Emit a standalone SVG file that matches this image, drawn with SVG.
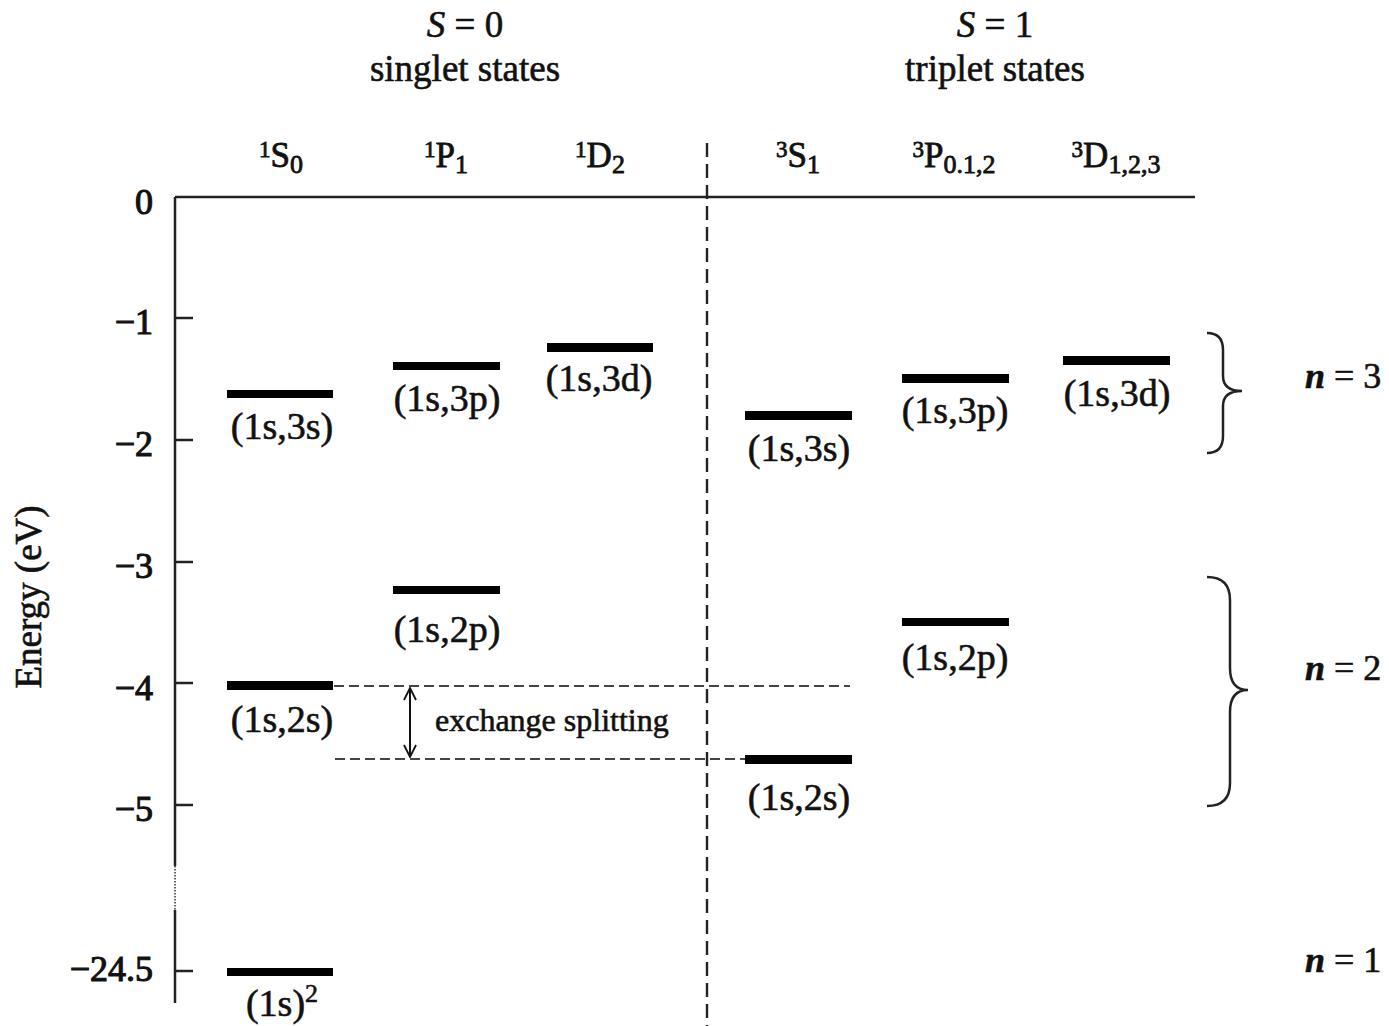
<svg xmlns="http://www.w3.org/2000/svg" width="1389" height="1026" viewBox="0 0 1389 1026">
<style>
text{font-family:"Liberation Serif","Times New Roman",serif;fill:#111;stroke:#111;stroke-width:0.6}
.lbl{font-size:38px;text-anchor:middle}
.tick{font-size:36px;text-anchor:end;stroke-width:1.1}
.hdr{font-size:37px;text-anchor:middle}
.col{font-size:35px;text-anchor:middle;stroke-width:0.8}
.nl{font-size:36px}
.bar{fill:#000}
.axis{stroke:#222;stroke-width:2.5;fill:none}
.dash{stroke:#444;stroke-width:2.2;stroke-dasharray:10 5;fill:none}
.brace{stroke:#222;stroke-width:2.5;fill:none}
</style>
<defs>
<marker id="vh" viewBox="0 0 14 14" refX="13" refY="7" markerWidth="14" markerHeight="14" markerUnits="userSpaceOnUse" orient="auto-start-reverse">
<path d="M1,1 L13,7 L1,13" fill="none" stroke="#111" stroke-width="1.8"/>
</marker>
</defs>
<rect width="1389" height="1026" fill="#fff"/>

<g id="headers">
<text class="hdr" x="465" y="37"><tspan font-style="italic">S</tspan> = 0</text>
<text class="hdr" x="465" y="81">singlet states</text>
<text class="hdr" x="995" y="37"><tspan font-style="italic">S</tspan> = 1</text>
<text class="hdr" x="995" y="81">triplet states</text>
</g>

<g id="columns">
<text class="col" x="281" y="167"><tspan font-size="23" dy="-10">1</tspan><tspan dy="10">S</tspan><tspan font-size="26" dy="6">0</tspan></text>
<text class="col" x="446" y="167"><tspan font-size="23" dy="-10">1</tspan><tspan dy="10">P</tspan><tspan font-size="26" dy="6">1</tspan></text>
<text class="col" x="600" y="167"><tspan font-size="23" dy="-10">1</tspan><tspan dy="10">D</tspan><tspan font-size="26" dy="6">2</tspan></text>
<text class="col" x="798" y="167"><tspan font-size="23" dy="-10">3</tspan><tspan dy="10">S</tspan><tspan font-size="26" dy="6">1</tspan></text>
<text class="col" x="954" y="167"><tspan font-size="23" dy="-10">3</tspan><tspan dy="10">P</tspan><tspan font-size="26" dy="6">0.1,2</tspan></text>
<text class="col" x="1116" y="167"><tspan font-size="23" dy="-10">3</tspan><tspan dy="10">D</tspan><tspan font-size="26" dy="6">1,2,3</tspan></text>
</g>

<g id="axes">
<path class="axis" d="M175,197 H1195"/>
<path class="axis" d="M175,197 V866"/>
<path d="M175,866 V910" stroke="#333" stroke-width="1.5" stroke-dasharray="1.5 1.5" fill="none"/>
<path class="axis" d="M175,910 V1003"/>
<path class="axis" d="M175,318 H193 M175,440 H193 M175,562 H193 M175,683 H193 M175,805 H193 M175,971 H193"/>
<text class="tick" x="153" y="214">0</text>
<text class="tick" x="153" y="334">−1</text>
<text class="tick" x="153" y="456">−2</text>
<text class="tick" x="153" y="578">−3</text>
<text class="tick" x="153" y="700">−4</text>
<text class="tick" x="153" y="821">−5</text>
<text class="tick" x="153" y="981">−24.5</text>
<text x="41" y="597" font-size="37" text-anchor="middle" transform="rotate(-90 41 597)">Energy (eV)</text>
<path d="M707,143 V1026" stroke="#222" stroke-width="2.4" stroke-dasharray="14 7" fill="none"/>
</g>

<g id="S0-3s"><rect class="bar" x="227" y="390" width="106" height="8"/><text class="lbl" x="282" y="439">(1s,3s)</text></g>
<g id="S0-2s"><rect class="bar" x="227" y="681" width="106" height="9"/><text class="lbl" x="282" y="732">(1s,2s)</text></g>
<g id="S0-1s2"><rect class="bar" x="227" y="968" width="106" height="8"/><text class="lbl" x="282" y="1016">(1s)<tspan font-size="26" dy="-14">2</tspan></text></g>
<g id="P1-3p"><rect class="bar" x="393" y="362" width="107" height="8"/><text class="lbl" x="447" y="411">(1s,3p)</text></g>
<g id="P1-2p"><rect class="bar" x="393" y="586" width="107" height="8"/><text class="lbl" x="447" y="642">(1s,2p)</text></g>
<g id="D2-3d"><rect class="bar" x="547" y="343" width="106" height="9"/><text class="lbl" x="599" y="391">(1s,3d)</text></g>
<g id="S1-3s"><rect class="bar" x="745" y="411" width="107" height="9"/><text class="lbl" x="799" y="461">(1s,3s)</text></g>
<g id="S1-2s"><rect class="bar" x="745" y="755" width="107" height="9"/><text class="lbl" x="799" y="810">(1s,2s)</text></g>
<g id="P012-3p"><rect class="bar" x="902" y="374" width="107" height="9"/><text class="lbl" x="955" y="423">(1s,3p)</text></g>
<g id="P012-2p"><rect class="bar" x="902" y="618" width="107" height="8"/><text class="lbl" x="955" y="670">(1s,2p)</text></g>
<g id="D123-3d"><rect class="bar" x="1063" y="356" width="107" height="9"/><text class="lbl" x="1117" y="406">(1s,3d)</text></g>

<g id="connectors">
<path class="dash" d="M334,686 H850"/>
<path class="dash" d="M335,759 H745"/>
<path d="M410,688 V757" stroke="#111" stroke-width="2" fill="none" marker-start="url(#vh)" marker-end="url(#vh)"/>
</g>
<text x="435" y="731" font-size="32">exchange splitting</text>

<g id="n3">
<path class="brace" d="M1207,333 Q1223,333 1223,350 V376 Q1223,391 1242,391 Q1223,391 1223,406 V436 Q1223,453 1207,453"/>
<text class="nl" x="1305" y="388"><tspan font-style="italic" font-weight="bold">n</tspan> = 3</text>
</g>
<g id="n2">
<path class="brace" d="M1207,577 Q1230,577 1230,600 V668 Q1230,690 1248,690 Q1230,690 1230,712 V783 Q1230,806 1207,806"/>
<text class="nl" x="1305" y="680"><tspan font-style="italic" font-weight="bold">n</tspan> = 2</text>
</g>
<g id="n1">
<text class="nl" x="1305" y="972"><tspan font-style="italic" font-weight="bold">n</tspan> = 1</text>
</g>
</svg>
